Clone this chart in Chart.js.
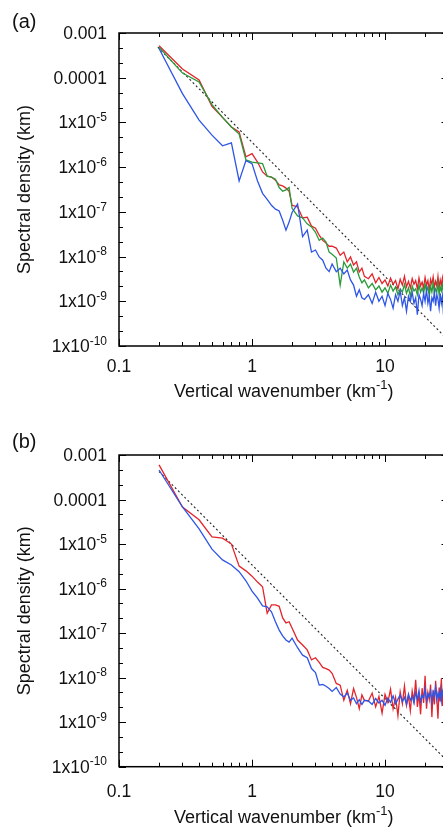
<!DOCTYPE html>
<html>
<head>
<meta charset="utf-8">
<script src="https://cdn.jsdelivr.net/npm/chart.js@4.4.1/dist/chart.umd.min.js"></script>
<style>
  html, body { margin: 0; padding: 0; background: #fff; overflow: hidden; width: 443px; height: 827px; }
  canvas { position: absolute; left: 0; }
  #chartA { top: 0; }
  #chartB { top: 413px; }
</style>
</head>
<body>
<canvas id="chartA" width="460" height="413"></canvas>
<canvas id="chartB" width="460" height="414"></canvas>
<script>
// Vertical wavenumber grid (km^-1), shared by both panels
const wavenumber = [
  0.2, 0.3, 0.4, 0.5, 0.6, 0.7, 0.8, 0.9, 1.0, 1.1,
  1.2, 1.3, 1.4, 1.5, 1.6, 1.7, 1.8, 1.9, 2.0, 2.2,
  2.4, 2.6, 2.8, 3.0, 3.2, 3.4, 3.6, 3.8, 4.0, 4.3,
  4.6, 4.9, 5.2, 5.5, 5.8, 6.1, 6.4, 6.7, 7.0,
  7.5, 8, 8.5, 9, 9.5, 10, 10.5, 11, 11.5, 12,
  12.5, 13, 13.5, 14, 14.5, 15, 15.5, 16, 16.5, 17,
  17.5, 18, 18.5, 19, 19.5, 20, 20.5, 21, 21.5, 22,
  22.5, 23, 23.5, 24, 24.5, 25, 25.5, 26, 26.5, 27,
  27.5, 28, 28.5, 29, 29.5, 30
];

// Panel (a) spectra (km)
const redA = [
  5.2e-4, 1.57e-4, 8.9e-5, 2.3e-5, 1.3e-5, 7.9e-6, 6.1e-6, 1.7e-6, 2.0e-6, 1.3e-6,
  7.8e-7, 6.3e-7, 6.0e-7, 5.1e-7, 4.0e-7, 3.8e-7, 3.4e-7, 2.9e-7, 1.4e-7, 1.3e-7,
  7.3e-8, 7.6e-8, 4.8e-8, 4.3e-8, 3.0e-8, 2.3e-8, 2.0e-8, 1.7e-8, 1.7e-8, 1.55e-8,
  1.07e-8, 1.26e-8, 7.6e-9, 9.8e-9, 6.5e-9, 7.6e-9, 4.5e-9, 5.5e-9, 3.6e-9,
  3.2e-9, 4.1e-9, 2.6e-9, 3.4e-9, 2.5e-9, 3.0e-9, 2.2e-9, 3.3e-9, 2.4e-9, 2.9e-9,
  1.9e-9, 3.1e-9, 2.3e-9, 3.6e-9, 2.1e-9, 2.8e-9, 2.0e-9, 3.2e-9, 2.4e-9, 2.9e-9,
  1.9e-9, 3.3e-9, 2.2e-9, 2.7e-9, 2.0e-9, 3.4e-9, 2.3e-9, 2.9e-9, 1.8e-9, 3.1e-9,
  2.4e-9, 3.5e-9, 2.1e-9, 2.8e-9, 2.2e-9, 3.6e-9, 2.0e-9, 3.0e-9, 2.3e-9, 3.3e-9,
  2.1e-9, 2.9e-9, 2.4e-9, 3.1e-9, 2.2e-9, 2.8e-9
];
const greenA = [
  4.8e-4, 1.27e-4, 8.0e-5, 2.5e-5, 1.3e-5, 7.9e-6, 5.5e-6, 1.45e-6, 1.3e-6, 1.25e-6,
  1.2e-6, 6.3e-7, 6.0e-7, 5.4e-7, 3.5e-7, 2.9e-7, 3.1e-7, 3.5e-7, 1.2e-7, 8.1e-8,
  7.3e-8, 5.4e-8, 4.6e-8, 3.5e-8, 2.3e-8, 2.6e-8, 2.1e-8, 1.26e-8, 1.13e-8, 9.3e-9,
  2.3e-9, 7.6e-9, 5.5e-9, 6.8e-9, 4.5e-9, 5.5e-9, 3.5e-9, 2.6e-9, 3.0e-9,
  2.0e-9, 2.5e-9, 1.8e-9, 2.2e-9, 1.6e-9, 2.0e-9, 1.5e-9, 2.3e-9, 1.7e-9, 2.1e-9,
  1.4e-9, 1.9e-9, 1.6e-9, 2.4e-9, 1.5e-9, 2.0e-9, 1.3e-9, 2.2e-9, 1.7e-9, 1.9e-9,
  1.4e-9, 2.3e-9, 1.6e-9, 2.0e-9, 1.5e-9, 2.4e-9, 1.7e-9, 2.1e-9, 1.3e-9, 2.2e-9,
  1.6e-9, 2.5e-9, 1.5e-9, 1.9e-9, 1.6e-9, 2.6e-9, 1.4e-9, 2.1e-9, 1.7e-9, 2.3e-9,
  1.5e-9, 2.0e-9, 1.8e-9, 2.4e-9, 1.6e-9, 2.0e-9
];
const blueA = [
  4.5e-4, 4.4e-5, 1.13e-5, 5.2e-6, 3.0e-6, 3.5e-6, 4.9e-7, 1.4e-6, 1.2e-6, 4.9e-7,
  2.6e-7, 1.9e-7, 1.4e-7, 1.15e-7, 1.05e-7, 6.5e-8, 3.9e-8, 5.9e-8, 9.7e-8, 1.5e-7,
  2.8e-8, 3.9e-8, 1.26e-8, 1.4e-8, 9.8e-9, 8.3e-9, 5.5e-9, 4.6e-9, 6.8e-9, 4.6e-9,
  5.5e-9, 4.1e-9, 5.0e-9, 3.0e-9, 2.3e-9, 1.3e-9, 1.8e-9, 1.2e-9, 1.1e-9,
  1.4e-9, 9e-10, 1.6e-9, 1.0e-9, 1.3e-9, 8e-10, 1.5e-9, 1.1e-9, 7e-10, 1.4e-9,
  1.0e-9, 1.7e-9, 8e-10, 1.2e-9, 6e-10, 1.3e-9, 1.0e-9, 1.6e-9, 9e-10, 1.2e-9,
  5e-10, 1.4e-9, 1.1e-9, 8e-10, 1.5e-9, 1.0e-9, 1.8e-9, 9e-10, 1.3e-9, 6e-10,
  1.2e-9, 1.0e-9, 1.6e-9, 8e-10, 1.4e-9, 1.1e-9, 7e-10, 1.5e-9, 9e-10, 1.3e-9,
  5e-10, 1.2e-9, 1.0e-9, 1.7e-9, 8e-10, 1.3e-9
];

// Panel (b) spectra (km)
const redB = [
  6.0e-4, 6.8e-5, 3.5e-5, 1.44e-5, 1.36e-5, 1.0e-5, 3.2e-6, 2.5e-6, 1.9e-6, 1.4e-6,
  1.1e-6, 2.8e-7, 4.3e-7, 4.3e-7, 4.0e-7, 2.2e-7, 1.7e-7, 1.8e-7, 1.3e-7, 7.0e-8,
  5.4e-8, 4.2e-8, 2.5e-8, 2.8e-8, 2.2e-8, 1.7e-8, 1.6e-8, 1.48e-8, 1.25e-8, 7.4e-9,
  6.8e-9, 3.1e-9, 5.2e-9, 2.6e-9, 5.7e-9, 3.6e-9, 2.0e-9, 4.1e-9, 3.1e-9,
  3.0e-9, 4.5e-9, 2.2e-9, 3.8e-9, 1.6e-9, 4.2e-9, 2.8e-9, 5.5e-9, 2.0e-9, 3.6e-9,
  1.4e-9, 4.8e-9, 2.6e-9, 6.5e-9, 2.4e-9, 3.9e-9, 1.8e-9, 5.0e-9, 3.0e-9, 9.0e-9,
  2.2e-9, 4.4e-9, 1.5e-9, 5.8e-9, 2.7e-9, 1.1e-8, 2.0e-9, 4.6e-9, 3.2e-9, 7.0e-9,
  1.3e-9, 5.2e-9, 2.5e-9, 8.5e-9, 3.4e-9, 1.2e-9, 6.0e-9, 2.9e-9, 9.5e-9, 2.3e-9,
  4.9e-9, 1.1e-9, 6.8e-9, 2.6e-9, 5.4e-9, 2.0e-9
];
const blueB = [
  4.6e-4, 6.8e-5, 2.2e-5, 7.7e-6, 4.4e-6, 3.4e-6, 2.4e-6, 1.5e-6, 8.8e-7, 6.1e-7,
  4.1e-7, 3.9e-7, 3.0e-7, 1.8e-7, 1.17e-7, 8.7e-8, 7.0e-8, 6.3e-8, 7.7e-8, 4.7e-8,
  3.2e-8, 2.8e-8, 1.6e-8, 1.3e-8, 6.8e-9, 7.0e-9, 6.4e-9, 5.7e-9, 4.9e-9, 6.0e-9,
  4.3e-9, 3.7e-9, 4.5e-9, 3.1e-9, 3.5e-9, 2.6e-9, 3.2e-9, 2.5e-9, 3.1e-9,
  3.0e-9, 2.5e-9, 3.4e-9, 2.7e-9, 3.1e-9, 2.4e-9, 3.5e-9, 2.8e-9, 3.9e-9, 2.6e-9,
  3.3e-9, 4.1e-9, 2.9e-9, 3.6e-9, 2.5e-9, 4.3e-9, 3.1e-9, 3.8e-9, 2.7e-9, 4.6e-9,
  3.3e-9, 5.2e-9, 2.9e-9, 4.0e-9, 3.5e-9, 5.6e-9, 3.0e-9, 4.4e-9, 3.7e-9, 5.0e-9,
  2.8e-9, 4.8e-9, 3.9e-9, 6.0e-9, 3.2e-9, 4.5e-9, 3.6e-9, 5.5e-9, 3.0e-9, 4.9e-9,
  4.0e-9, 6.5e-9, 3.4e-9, 5.1e-9, 3.8e-9, 4.6e-9
];

// k^-3 reference lines (dotted)
const refXA = [0.196, 30];
const refA = [4.8e-4, 1.33e-10];
const refXB = [0.2, 30];
const refB = [4.25e-4, 1.26e-10];

// Axis ticks and labels
const xTickValues = [0.1, 1, 10];
const xTickLabels = ['0.1', '1', '10'];
const xMinorTicks = [0.2, 0.3, 0.4, 0.5, 0.6, 0.7, 0.8, 0.9, 2, 3, 4, 5, 6, 7, 8, 9, 20];
const yTickValues = [1e-3, 1e-4, 1e-5, 1e-6, 1e-7, 1e-8, 1e-9, 1e-10];
const yTickBase = ['0.001', '0.0001', '1x10', '1x10', '1x10', '1x10', '1x10', '1x10'];
const yTickExp = ['', '', '-5', '-6', '-7', '-8', '-9', '-10'];

const RED = '#e3242b';
const GREEN = '#2a9a3a';
const BLUE = '#2d55e6';
const FONT = '"Liberation Sans", Arial, Helvetica, sans-serif';

// draws a run of text pieces, some of them as superscripts
function drawRich(ctx, parts, x, y, align, size) {
    const supSize = Math.round(size * 0.7);
    const widths = parts.map(p => {
        ctx.font = (p.sup ? supSize : size) + 'px ' + FONT;
        return ctx.measureText(p.t).width;
    });
    const total = widths.reduce((a, b) => a + b, 0);
    let cx = align === 'right' ? x - total : align === 'center' ? x - total / 2 : x;
    ctx.textAlign = 'left';
    ctx.textBaseline = 'alphabetic';
    parts.forEach((p, i) => {
        ctx.font = (p.sup ? supSize : size) + 'px ' + FONT;
        ctx.fillText(p.t, cx, p.sup ? y - size * 0.42 : y);
        cx += widths[i];
    });
}

// gnuplot-like frame: border, inward ticks on all sides, labels
const framePlugin = {
    id: 'gnuFrame',
    afterDatasetsDraw(chart, args, opts) {
        const { ctx, chartArea: a } = chart;
        const xs = chart.scales.x, ys = chart.scales.y;
        ctx.save();
        ctx.strokeStyle = '#000';
        ctx.fillStyle = '#111';

        ctx.lineWidth = 1;
        const tick = (x1, y1, x2, y2) => {
            ctx.beginPath(); ctx.moveTo(x1, y1); ctx.lineTo(x2, y2); ctx.stroke();
        };
        xTickValues.forEach(v => {
            const px = Math.round(xs.getPixelForValue(v)) + 0.5;
            tick(px, a.bottom, px, a.bottom - 7);
            tick(px, a.top, px, a.top + 7);
        });
        xMinorTicks.forEach(v => {
            const px = Math.round(xs.getPixelForValue(v)) + 0.5;
            tick(px, a.bottom, px, a.bottom - 4);
            tick(px, a.top, px, a.top + 4);
        });
        yTickValues.forEach((v, i) => {
            const py = Math.round(ys.getPixelForValue(v)) + 0.5;
            tick(a.left, py, a.left + 7, py);
            tick(a.right, py, a.right - 7, py);
            if (i < yTickValues.length - 1) {
                [1 / 3, 2 / 3].forEach(f => {
                    const pm = Math.round(ys.getPixelForValue(v * Math.pow(10, -f))) + 0.5;
                    tick(a.left, pm, a.left + 4, pm);
                    tick(a.right, pm, a.right - 4, pm);
                });
            }
        });

        ctx.lineWidth = 1.5;
        ctx.strokeRect(a.left, a.top, a.right - a.left, a.bottom - a.top);

        // tick labels
        yTickValues.forEach((v, i) => {
            const py = ys.getPixelForValue(v);
            const parts = [{ t: yTickBase[i] }];
            if (yTickExp[i]) parts.push({ t: yTickExp[i], sup: true });
            drawRich(ctx, parts, a.left - 12, py + 6, 'right', 17.5);
        });
        xTickValues.forEach((v, i) => {
            drawRich(ctx, [{ t: xTickLabels[i] }], xs.getPixelForValue(v), opts.xTickY, 'center', 17.5);
        });

        // axis titles
        drawRich(ctx, [{ t: 'Vertical wavenumber (km' }, { t: '-1', sup: true }, { t: ')' }],
            (a.left + a.right) / 2, opts.xTitleY, 'center', 18);
        ctx.save();
        ctx.translate(25, (a.top + a.bottom) / 2);
        ctx.rotate(-Math.PI / 2);
        ctx.font = '18px ' + FONT;
        ctx.textAlign = 'center';
        ctx.textBaseline = 'middle';
        ctx.fillText('Spectral density (km)', 0, 0);
        ctx.restore();

        // panel letter
        drawRich(ctx, [{ t: opts.letter }], 12, opts.letterY, 'left', 20);
        ctx.restore();
    }
};

function series(xv, yv, color, order, extra) {
    return Object.assign({
        data: xv.map((k, i) => ({ x: k, y: yv[i] })),
        borderColor: color,
        borderWidth: 1.3,
        pointRadius: 0,
        tension: 0,
        fill: false,
        order: order
    }, extra || {});
}

function makePanel(id, datasets, padding, labelOpts) {
    return new Chart(document.getElementById(id), {
        type: 'line',
        data: { datasets: datasets },
        options: {
            responsive: false,
            animation: false,
            layout: { padding: padding },
            scales: {
                x: { type: 'logarithmic', min: 0.1, max: 30, display: false },
                y: { type: 'logarithmic', min: 1e-10, max: 1e-3, display: false }
            },
            plugins: {
                legend: { display: false },
                tooltip: { enabled: false },
                gnuFrame: labelOpts
            }
        },
        plugins: [framePlugin]
    });
}

makePanel('chartA', [
    series(wavenumber, blueA, BLUE, 0),
    series(wavenumber, greenA, GREEN, 1),
    series(wavenumber, redA, RED, 2),
    series(refXA, refA, '#222', 3, { borderWidth: 1.1, borderDash: [2, 2.5] })
], { left: 119, top: 33, right: 11.5, bottom: 67 },
   { letter: '(a)', letterY: 28, xTickY: 372, xTitleY: 397 });

makePanel('chartB', [
    series(wavenumber, blueB, BLUE, 0),
    series(wavenumber, redB, RED, 1),
    series(refXB, refB, '#222', 3, { borderWidth: 1.1, borderDash: [2, 2.5] })
], { left: 119, top: 42, right: 11.5, bottom: 60.3 },
   { letter: '(b)', letterY: 35, xTickY: 384, xTitleY: 410 });
</script>
</body>
</html>
